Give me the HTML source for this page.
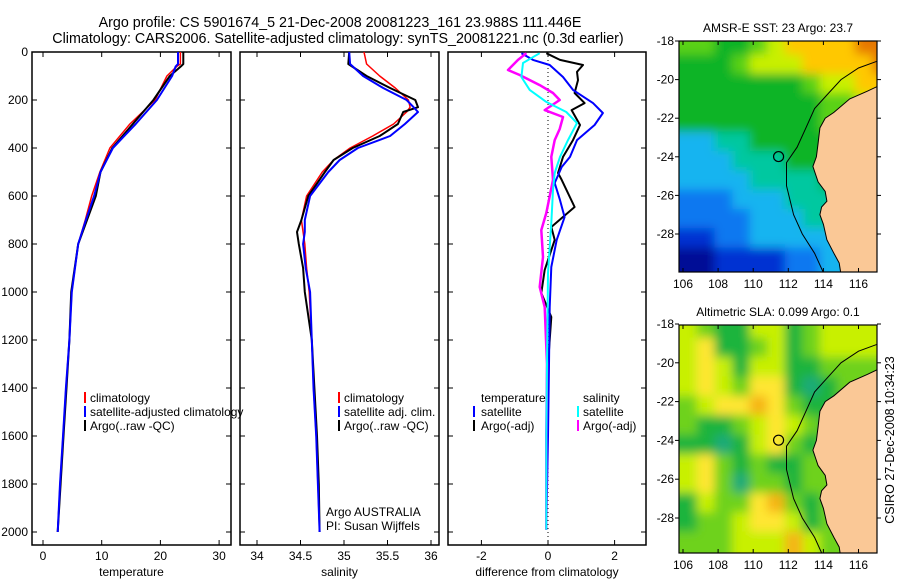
<!DOCTYPE html>
<html><head><meta charset="utf-8"><style>
html,body{margin:0;padding:0;background:#fff;}
svg{display:block;font-family:"Liberation Sans",sans-serif;}
</style></head><body>
<svg id="chart" width="900" height="580" viewBox="0 0 900 580" xmlns="http://www.w3.org/2000/svg">
<defs><filter id="smooth" x="-5%" y="-5%" width="110%" height="110%"><feGaussianBlur stdDeviation="5"/></filter></defs>
<text x="340" y="27" font-size="14.3" text-anchor="middle">Argo profile: CS 5901674_5 21-Dec-2008 20081223_161 23.988S 111.446E</text>
<text x="338" y="43" font-size="14.3" text-anchor="middle">Climatology: CARS2006. Satellite-adjusted climatology: synTS_20081221.nc (0.3d earlier)</text>
<text x="0" y="0" font-size="12.5" text-anchor="middle" transform="translate(894,440) rotate(-90)">CSIRO 27-Dec-2008 10:34:23</text>
</svg>
<script>
// ---- profile data ----
const depthT = [0,50,60,100,200,300,400,500,600,700,800,1000,1200,1400,1600,1800,2000];
const tempClim = [23.4,23.4,22.8,21.1,19.1,14.8,11.4,9.7,8.3,7.2,6.0,4.9,4.5,3.9,3.4,2.9,2.5];
const tempSat  = [23.0,23.0,22.6,22.0,19.4,15.8,11.9,9.8,8.7,7.3,6.0,4.9,4.5,3.9,3.4,2.9,2.5];
const tempArgo = [23.9,23.9,23.5,21.6,18.8,15.3,11.8,9.8,9.0,7.5,6.0,4.8,4.5,4.0,3.5,3.0,2.5];
const depthS = [0,50,100,150,200,230,250,300,350,400,450,500,600,700,750,800,900,1000,1200,1400,1600,1800,2000];
const salClim = [35.23,35.26,35.41,35.59,35.74,35.76,35.72,35.57,35.33,35.07,34.88,34.75,34.57,34.51,34.53,34.55,34.57,34.60,34.63,34.65,34.68,34.70,34.72];
const salSat  = [35.06,35.07,35.22,35.45,35.72,35.80,35.85,35.70,35.53,35.16,34.95,34.82,34.61,34.55,34.55,34.53,34.56,34.61,34.63,34.65,34.68,34.70,34.72];
const salArgo = [35.06,35.05,35.26,35.53,35.82,35.85,35.68,35.62,35.41,35.10,34.88,34.78,34.59,34.51,34.46,34.48,34.53,34.55,34.63,34.66,34.69,34.71,34.72];
const depthD1 = [5,33,54,83,117,171,213,242,304,367,437,504,533,646,729,783,908,1004,1104,1300,1600,1990];
const diffTempArgo = [-0.05,0.36,1.05,0.87,0.9,0.8,1.1,0.71,0.96,0.75,0.45,0.3,0.41,0.8,0.1,0.2,-0.1,-0.2,0.1,0.0,-0.05,-0.05];
const depthD2 = [5,33,54,104,158,213,254,304,367,437,479,546,617,688,783,896,1063,1300,1600,1990];
const diffTempSat = [-0.8,-0.45,0.05,0.45,0.75,1.35,1.65,1.4,0.87,0.66,0.41,0.2,0.36,0.5,0.26,0.1,0.05,0.03,0.0,-0.05];
const depthD3 = [5,33,75,96,138,171,200,242,271,321,367,437,533,671,742,854,979,1063,1300,1600,1990];
const diffSalArgo = [-0.65,-0.9,-1.2,-0.85,-0.25,0.15,0.35,-0.1,0.45,0.35,0.2,0.1,0.15,-0.05,-0.2,-0.15,-0.25,-0.1,-0.03,-0.05,-0.05];
const depthD4 = [5,46,104,158,208,250,296,367,437,504,575,713,921,1300,1600,1990];
const diffSalSat = [-0.25,-0.75,-0.8,-0.55,-0.05,0.55,0.87,0.6,0.36,0.2,0.15,0.1,0.0,-0.03,-0.05,-0.05];
const depthTicks = [0,200,400,600,800,1000,1200,1400,1600,1800,2000];
const tempTicks = [0,10,20,30];
const salTicks = [34,34.5,35,35.5,36];
const salTickLabels = ["34","34.5","35","35.5","36"];
const diffTicks = [-2,0,2];
// ---- map data (cell values, 1-degree cells, rows from -18 southward, cols from 105.8 eastward) ----
const sstGrid = [
[6,6,5,5,6,7,8,8,8,8,9,9],
[5,5,5,6,7,7,7,8,8,8,8,9],
[5,5,5,5,5,5,5,6,7,7,8,8],
[5,5,5,5,5,5,5,5,6,6,7,8],
[5,5,5,5,5,5,5,5,6,6,6,6],
[3,3,4,4,5,5,5,5,5,5,5,5],
[3,3,3,4,4,4,5,5,5,5,5,5],
[3,3,3,3,4,4,4,4,5,5,5,5],
[2,2,2,3,3,3,4,4,4,4,5,5],
[2,2,2,2,3,3,3,4,4,3,3,3],
[1,1,2,2,3,3,3,3,3,3,3,3],
[0,0,1,1,1,1,2,2,3,3,3,3]];
const slaGrid = [
[3,2,1,1,3,3,1,2,3,3,3,3],
[3,4,1,1,2,3,1,2,3,3,3,3],
[3,4,3,1,3,3,1,1,2,2,2,2],
[3,4,3,2,4,4,1,0,1,2,2,2],
[2,3,4,4,5,4,2,1,1,2,2,2],
[2,1,1,2,3,4,3,2,1,2,2,2],
[1,1,0,1,3,4,2,1,2,2,2,2],
[3,4,2,1,2,1,1,2,2,2,2,2],
[3,4,2,0,2,2,1,2,2,2,2,2],
[1,3,2,2,4,5,2,1,2,2,2,2],
[1,2,2,3,4,4,3,1,2,2,2,2],
[2,2,2,3,3,3,5,3,2,2,2,2]];
const lonTicks = [106,108,110,112,114,116];
const latTicks = [-18,-20,-22,-24,-26,-28];
const coastLon = [117.2,116.5,115.5,114.6,114.1,113.8,113.7,113.6,113.4,113.7,114.1,114.2,113.9,113.8,114.0,114.2,114.6,114.9,115.0,117.2];
const coastLat = [-20.3,-20.6,-21.0,-21.7,-22.0,-22.5,-23.3,-24.0,-24.5,-25.3,-25.8,-26.3,-26.6,-27.0,-27.5,-28.3,-29.0,-29.5,-30.1,-30.1];
const shelfLon = [117.2,116.0,115.0,114.2,113.5,113.0,112.5,111.9,111.9,112.3,112.8,113.5,114.0];
const shelfLat = [-19.0,-19.4,-20.0,-20.8,-21.5,-22.5,-23.5,-24.3,-25.5,-27.0,-28.0,-29.0,-30.0];
const floatLon = 111.446, floatLat = -23.988;

const NS='http://www.w3.org/2000/svg';
const svg=document.getElementById('chart');
function el(tag,attrs,parent){const e=document.createElementNS(NS,tag);for(const k in attrs)e.setAttribute(k,attrs[k]);(parent||svg).appendChild(e);return e;}
function txt(s,x,y,size,anchor,parent){const t=el('text',{x:x,y:y,'font-size':size,'text-anchor':anchor||'start'},parent);t.textContent=s;return t;}

const Y0=52, YS=0.24;
const yD=d=>Y0+d*YS;
const xT=v=>43+v*5.87;
const xS=v=>257+(v-34)*87;
const xDf=v=>548+v*33.3;

function panel(name,x0,x1,xf,ticks,labels,xlabel,showDepth){
  const g=el('g',{});
  
  
  const r=el('rect',{x:x0,y:52,width:x1-x0,height:493,fill:'none',stroke:'#000','stroke-width':1.5},g);
  
  
  ticks.forEach((t,i)=>{const x=xf(t);
    el('line',{x1:x,x2:x,y1:545,y2:540,stroke:'#000'},g);
    el('line',{x1:x,x2:x,y1:52,y2:57,stroke:'#000'},g);
    const l=txt(labels[i],x,560,12,'middle',g);
    
    
  });
  depthTicks.forEach(d=>{const y=yD(d);
    el('line',{x1:x0,x2:x0+5,y1:y,y2:y,stroke:'#000'},g);
    el('line',{x1:x1,x2:x1-5,y1:y,y2:y,stroke:'#000'},g);
    if(showDepth){const l=txt(String(d),28,y+4,12,'end',g);
      
      }
  });
  const xl=txt(xlabel,(x0+x1)/2,576,12,'middle',g);
  
  
  return g;
}
function line(depths,vals,xf,color,w,name,g){
  const pts=depths.map((d,i)=>xf(vals[i]).toFixed(1)+','+yD(d).toFixed(1)).join(' ');
  const p=el('polyline',{points:pts,fill:'none',stroke:color,'stroke-width':w,'stroke-linejoin':'round'},g);
  
  
}
function legend(items,x,y,g,barX){
  items.forEach((it,i)=>{
    const yy=y+i*14;
    if(it[1]){el('rect',{x:barX!==undefined?barX:x-6,y:yy-10,width:2,height:11,fill:it[1]},g);}
    const t=txt(it[0],x,yy,12,'start',g);
    
    
  });
}

// Temperature panel
const gT=panel('temperature-panel',32,231,xT,tempTicks,tempTicks.map(String),'temperature',true);
line(depthT,tempClim,xT,'#f00',1.5,'temp-climatology-line',gT);
line(depthT,tempArgo,xT,'#000',2,'temp-argo-line',gT);
line(depthT,tempSat,xT,'#00f',2,'temp-satellite-line',gT);
legend([['climatology','#f00'],['satellite-adjusted climatology','#00f'],['Argo(..raw -QC)','#000']],90,402,gT);

// Salinity panel
const gS=panel('salinity-panel',240,439,xS,salTicks,salTickLabels,'salinity',false);
line(depthS,salClim,xS,'#f00',1.5,'sal-climatology-line',gS);
line(depthS,salArgo,xS,'#000',2,'sal-argo-line',gS);
line(depthS,salSat,xS,'#00f',2,'sal-satellite-line',gS);
legend([['climatology','#f00'],['satellite adj. clim.','#00f'],['Argo(..raw -QC)','#000']],344,402,gS);
legend([['Argo AUSTRALIA',null],['PI: Susan Wijffels',null]],326,516,gS);

// Difference panel
const gD=panel('difference-panel',448,646,xDf,diffTicks,diffTicks.map(String),'difference from climatology',false);
const zl=el('line',{x1:xDf(0),x2:xDf(0),y1:52,y2:545,stroke:'#000','stroke-dasharray':'1,3'},gD);


line(depthD1,diffTempArgo,xDf,'#000',2,'diff-temp-argo-line',gD);
line(depthD2,diffTempSat,xDf,'#00f',2,'diff-temp-satellite-line',gD);
line(depthD3,diffSalArgo,xDf,'#f0f',2.5,'diff-sal-argo-line',gD);
line(depthD4,diffSalSat,xDf,'#0ff',2,'diff-sal-satellite-line',gD);
legend([['temperature',null],['satellite','#00f'],['Argo(-adj)','#000']],481,402,gD,473);
legend([['salinity',null],['satellite','#0ff'],['Argo(-adj)','#f0f']],583,402,gD,577);

// Maps
const sstColors=['#000a96','#0032d2','#0a78f0','#14b4f0','#00c8a0','#0ab428','#5ad214','#c8f000','#ffc800','#e67800'];
const slaColors=['#1eaa78','#1eb43c','#6ed21e','#c8f000','#ffe632','#f5b414'];
function map(name,x0,y0,w,h,lat0Y,latScale,grid,colors,title){
  const g=el('g',{});
  
  
  const lonS=17.55;
  const xL=lon=>683+(lon-106)*lonS;
  const yL=lat=>lat0Y+(-18-lat)*latScale;
  const clip='clip-'+name;
  const cp=el('clipPath',{id:clip},g);el('rect',{x:x0,y:y0,width:w,height:h},cp);
  const inner=el('g',{'clip-path':'url(#'+clip+')'},g);
  const cells=el('g',{filter:'url(#smooth)'},inner);
  grid.forEach((row,r)=>row.forEach((v,c)=>{
    const lon=105.8+c, lat=-18+0.3-r;
    // extend edge cells outward so blur doesn't fade at borders
    const ex0=c===0?15:0, ey0=r===0?15:0, ex1=c===row.length-1?15:0, ey1=r===grid.length-1?15:0;
    const cell=el('rect',{x:(xL(lon)-ex0).toFixed(1),y:(yL(lat)-ey0).toFixed(1),width:(lonS+0.6+ex0+ex1).toFixed(1),height:(latScale+0.6+ey0+ey1).toFixed(1),fill:colors[v]},cells);
    
    
  }));
  const land=el('polygon',{points:coastLon.map((l,i)=>xL(l).toFixed(1)+','+yL(coastLat[i]).toFixed(1)).join(' '),fill:'#fac896',stroke:'#000','stroke-width':1},inner);
  
  
  const shelf=el('polyline',{points:shelfLon.map((l,i)=>xL(l).toFixed(1)+','+yL(shelfLat[i]).toFixed(1)).join(' '),fill:'none',stroke:'#000','stroke-width':1},inner);
  
  
  const fl=el('circle',{cx:xL(floatLon),cy:yL(floatLat),r:5,fill:'none',stroke:'#000','stroke-width':1.2},g);
  
  
  el('rect',{x:x0,y:y0,width:w,height:h,fill:'none',stroke:'#000','stroke-width':1.2},g);
  lonTicks.forEach(l=>{const x=xL(l);
    el('line',{x1:x,x2:x,y1:y0,y2:y0+4,stroke:'#000'},g);
    el('line',{x1:x,x2:x,y1:y0+h,y2:y0+h-4,stroke:'#000'},g);
    const t=txt(String(l),x,y0+h+16,12,'middle',g);
    
    
  });
  latTicks.forEach(l=>{const y=yL(l);
    el('line',{x1:x0,x2:x0-4,y1:y,y2:y,stroke:'#000'},g);
    el('line',{x1:x0+w,x2:x0+w+4,y1:y,y2:y,stroke:'#000'},g);
    const t=txt(String(l),x0-5,y+4,12,'end',g);
    
    
  });
  const tt=txt(title,x0+w/2,y0-9,12,'middle',g);
  
  
}
map('sst-map',679,41,198,231,41,19.3,sstGrid,sstColors,'AMSR-E SST: 23 Argo: 23.7');
map('sla-map',679,325,198,228,324,19.4,slaGrid,slaColors,'Altimetric SLA: 0.099 Argo: 0.1');
</script>
</body></html>
